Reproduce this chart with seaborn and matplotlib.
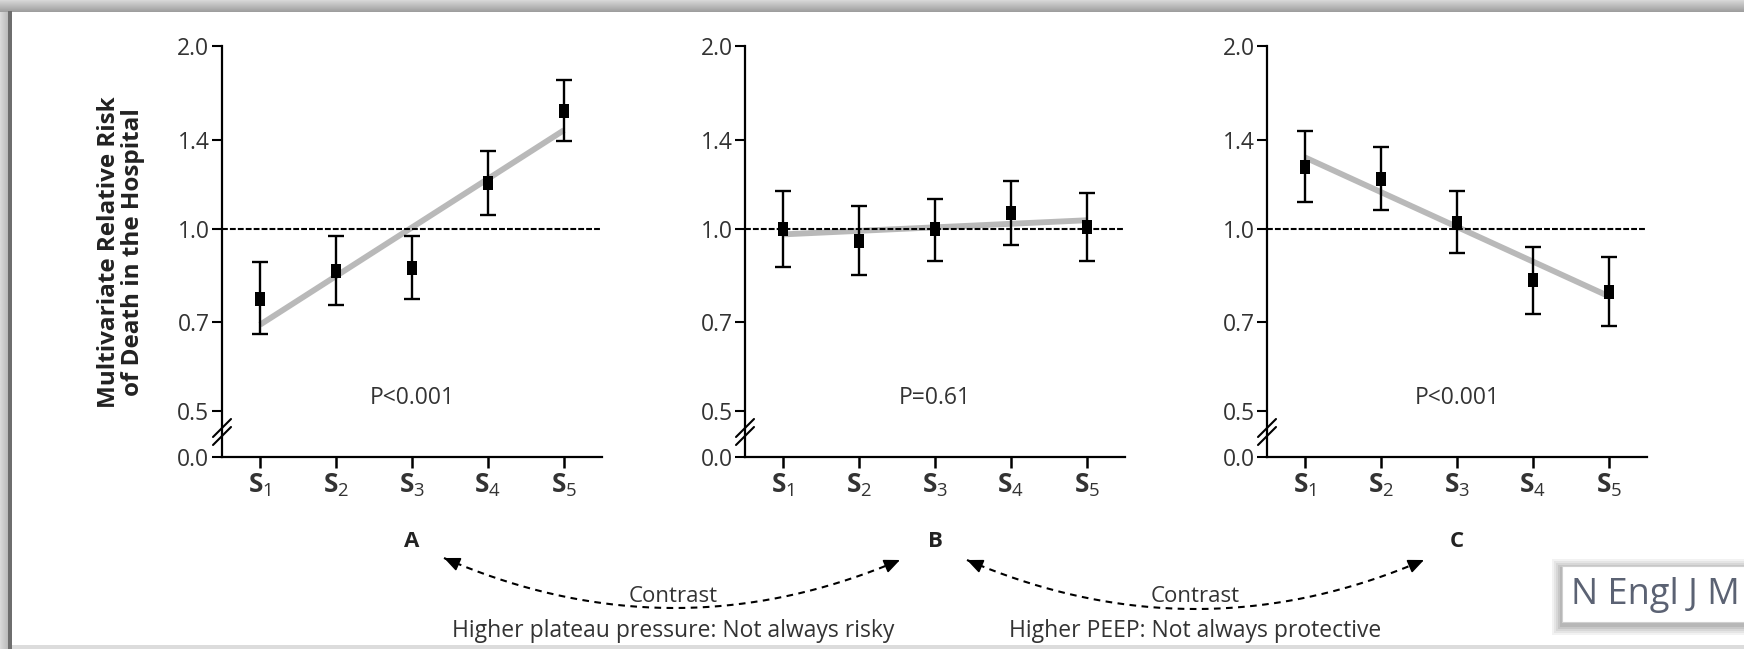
import numpy as np
import pandas as pd
import matplotlib
matplotlib.use("Agg")
import matplotlib.pyplot as plt
import seaborn as sns
from matplotlib import font_manager as fm
import matplotlib.transforms as mtrans
from matplotlib.patches import Rectangle
from matplotlib.ticker import NullLocator

# ---------------- data ----------------
stage_labels = [r"$\mathbf{S}_{1}$", r"$\mathbf{S}_{2}$", r"$\mathbf{S}_{3}$",
                r"$\mathbf{S}_{4}$", r"$\mathbf{S}_{5}$"]
ytick_vals = [0.42, 0.5, 0.7, 1.0, 1.4, 2.0]
ytick_text = ["0.0", "0.5", "0.7", "1.0", "1.4", "2.0"]

A_rr = [0.766, 0.852, 0.860, 1.190, 1.563]
A_lo = [0.669, 0.749, 0.765, 1.054, 1.394]
A_hi = [0.880, 0.973, 0.973, 1.344, 1.761]
A_trend = [0.694, 1.453]

B_rr = [1.000, 0.955, 1.000, 1.061, 1.004]
B_lo = [0.865, 0.838, 0.885, 0.941, 0.885]
B_hi = [1.153, 1.088, 1.120, 1.196, 1.144]
B_trend = [0.978, 1.032]

C_rr = [1.265, 1.208, 1.022, 0.821, 0.785]
C_lo = [1.106, 1.074, 0.910, 0.724, 0.690]
C_hi = [1.446, 1.361, 1.153, 0.931, 0.896]
C_trend = [1.310, 0.773]

p_texts = ["P<0.001", "P=0.61", "P<0.001"]
panel_letters = ["A", "B", "C"]
ylabel = "Multivariate Relative Risk\nof Death in the Hospital"
contrast_label = "Contrast"
note_1 = "Higher plateau pressure: Not always risky"
note_2 = "Higher PEEP: Not always protective"
source_text = "N Engl J M"

# ---------------- style ----------------
sns.set_theme(style="white")


def pick(names):
    for n in names:
        try:
            fm.findfont(fm.FontProperties(family=n), fallback_to_default=False)
            return n
        except Exception:
            pass
    return "DejaVu Sans"


FONT = pick(["Open Sans", "Lato", "DejaVu Sans"])
plt.rcParams["font.family"] = [FONT, "DejaVu Sans"]
plt.rcParams["mathtext.fontset"] = "custom"
plt.rcParams["mathtext.rm"] = FONT
plt.rcParams["mathtext.bf"] = FONT + ":bold"
plt.rcParams["mathtext.it"] = FONT + ":italic"

W, H = 1744, 649
fig = plt.figure(figsize=(W / 100, H / 100), dpi=100)
fig.patch.set_facecolor("white")

TXT = "#333333"
rect_marker = [(-0.34, -0.5), (0.34, -0.5), (0.34, 0.5), (-0.34, 0.5), (-0.34, -0.5)]
xpos = np.arange(5)

panels = [
    (A_rr, A_lo, A_hi, A_trend, 222),
    (B_rr, B_lo, B_hi, B_trend, 745),
    (C_rr, C_lo, C_hi, C_trend, 1267),
]

ax_top, ax_bot, ax_w = 46, 457, 380

for i, (rr, lo, hi, tr, left) in enumerate(panels):
    ax = fig.add_axes([left / W, 1 - ax_bot / H, ax_w / W, (ax_bot - ax_top) / H])
    ax.set_facecolor("none")
    ax.set_yscale("log")
    rr = np.array(rr)
    lo = np.array(lo)
    hi = np.array(hi)
    df = pd.DataFrame({"stage": xpos, "rr": rr})

    ax.axhline(1.0, color="black", lw=1.5, ls=(0, (2.8, 1.0)), zorder=3)
    sns.lineplot(x=np.array([xpos[0], xpos[-1]]), y=np.array(tr), ax=ax,
                 color="#b9b9b9", lw=4.2, zorder=2, solid_capstyle="butt")
    ax.errorbar(xpos, rr, yerr=[rr - lo, hi - rr], fmt="none", ecolor="black",
                elinewidth=1.7, capsize=6, capthick=1.7, zorder=4)
    sns.scatterplot(data=df, x="stage", y="rr", marker=rect_marker, s=105,
                    color="black", edgecolor="black", linewidth=0, ax=ax,
                    zorder=5, legend=False)

    ax.set_xlim(-0.5, 4.5)
    ax.set_ylim(0.42, 2.0)
    ax.set_yticks(ytick_vals)
    ax.set_yticklabels(ytick_text)
    ax.yaxis.set_minor_locator(NullLocator())
    ax.set_xticks(xpos)
    ax.set_xticklabels(stage_labels)
    ax.set_xlabel("")
    ax.set_ylabel("")
    sns.despine(ax=ax)
    for s in ["left", "bottom"]:
        ax.spines[s].set_linewidth(1.6)
        ax.spines[s].set_color("black")
    ax.tick_params(axis="y", direction="out", length=7, width=1.5, color="black",
                   labelsize=16.5, labelcolor=TXT, pad=2, left=True)
    ax.tick_params(axis="x", direction="out", length=8, width=1.8, color="black",
                   labelsize=19, labelcolor=TXT, pad=3, bottom=True)

    # P value
    ax.text(2, 0.525, p_texts[i], ha="center", va="center", fontsize=16.5, color=TXT)
    # panel letter
    bt = mtrans.blended_transform_factory(ax.transData, ax.transAxes)
    ax.text(2, -0.205, panel_letters[i], transform=bt, ha="center", va="center",
            fontsize=16, fontweight="bold", color="#222222")

    # axis break marks "//"
    ah = ax_bot - ax_top
    for yc in (436, 428):
        x0, x1 = -9 / ax_w, 9 / ax_w
        y0, y1 = (ax_bot - (yc + 9)) / ah, (ax_bot - (yc - 9)) / ah
        ax.plot([x0, x1], [y0, y1], transform=ax.transAxes, color="black",
                lw=1.5, clip_on=False, zorder=6)

fig.text(121 / W, 1 - 252 / H, ylabel, rotation=90, ha="center", va="center",
         fontsize=17.5, fontweight="bold", color="#222222", linespacing=1.05)

# ---------------- overlay (frame, arrows, notes) ----------------
ov = fig.add_axes([0, 0, 1, 1], zorder=10)
ov.set_xlim(0, W)
ov.set_ylim(H, 0)
ov.axis("off")
ov.patch.set_alpha(0)

# frame shading
top_grad = np.linspace(0.84, 0.62, 12).reshape(-1, 1)
ov.imshow(np.repeat(top_grad, 2, axis=1), extent=[0, W, 12, 0], cmap="gray",
          vmin=0, vmax=1, aspect="auto", zorder=1)
left_grad = np.linspace(0.85, 0.72, 8).reshape(1, -1)
ov.imshow(np.repeat(left_grad, 2, axis=0), extent=[0, 8, H, 12], cmap="gray",
          vmin=0, vmax=1, aspect="auto", zorder=1)
ov.add_patch(Rectangle((8, 11), 4, H - 11, color="#6e6e6e", lw=0, zorder=2))
ov.add_patch(Rectangle((12, 645), W - 12, 4, color="#dcdcdc", lw=0, zorder=2))
ov.set_xlim(0, W)
ov.set_ylim(H, 0)


def dashed_arc(p0, p2, depth):
    p0 = np.array(p0, float)
    p2 = np.array(p2, float)
    mid = (p0 + p2) / 2
    c = np.array([mid[0], mid[1] + 2 * depth])
    t = np.linspace(0, 1, 200)[:, None]
    pts = (1 - t) ** 2 * p0 + 2 * (1 - t) * t * c + t ** 2 * p2
    ov.plot(pts[:, 0], pts[:, 1], color="black", lw=1.5, ls=(0, (3.2, 2.6)), zorder=5)
    for p in (p0, p2):
        d = c - p
        d = d / np.hypot(*d)
        ov.annotate("", xy=p, xytext=p + d * 13,
                    arrowprops=dict(arrowstyle="-|>,head_length=0.8,head_width=0.35",
                                    color="black", lw=1.2, shrinkA=0, shrinkB=0),
                    zorder=6)


dashed_arc((444, 558), (900, 560), 49)
dashed_arc((967, 560), (1424, 560), 49)

ov.text(673, 597, contrast_label, ha="center", va="center", fontsize=16, color=TXT, zorder=7)
ov.text(673, 631, note_1, ha="center", va="center", fontsize=16.5, color=TXT, zorder=7)
ov.text(1195, 597, contrast_label, ha="center", va="center", fontsize=16, color=TXT, zorder=7)
ov.text(1195, 631, note_2, ha="center", va="center", fontsize=16.5, color=TXT, zorder=7)

# source box with soft shadow
for k, a in enumerate([0.05, 0.05, 0.06, 0.07, 0.08]):
    g = 10 - 2 * k
    ov.add_patch(Rectangle((1562 - g, 566 - g + 3), W, 56 + 2 * g, color="black",
                           alpha=a, lw=0, zorder=7))
ov.add_patch(Rectangle((1562, 566), W, 56, facecolor="white", edgecolor="#d0d0d0",
                       lw=0.8, zorder=8))
ov.text(1571, 595, source_text, ha="left", va="center", fontsize=26,
        color="#5b6273", zorder=9)

fig.savefig("out.png", dpi=100)
